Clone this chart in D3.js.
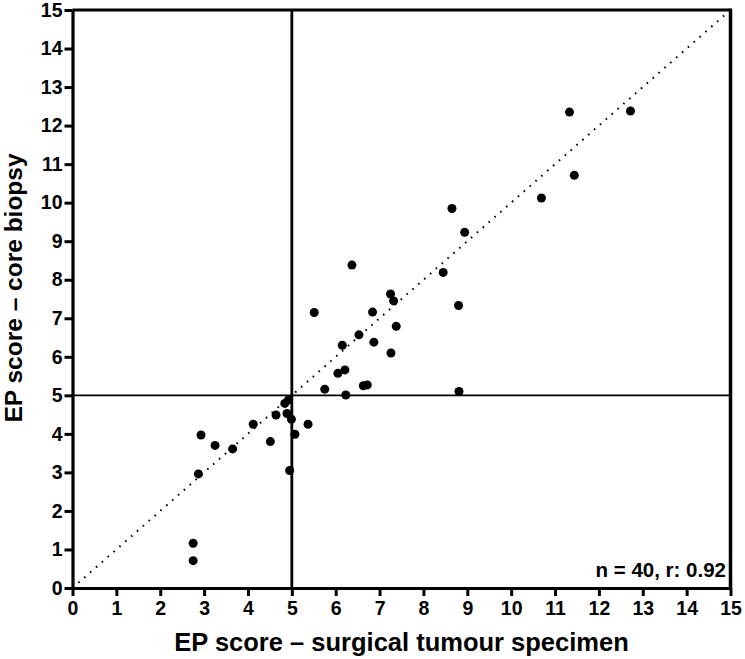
<!DOCTYPE html>
<html>
  <head>
    <title>EP score</title>
    <script src="https://d3js.org/d3.v7.min.js"></script>
    <style>
      body { margin: 0; background: #fff; }
      text { font-family: "Liberation Sans", Arial, sans-serif; font-weight: bold; }
    </style>
  </head>
  <body>
    <svg width="745" height="659" id="mainsvg"></svg>
    <script>
      // surgical specimen score (x) vs core biopsy score (y)
      const surgical = [2.75, 2.75, 2.87, 2.93, 3.25, 3.65, 4.12, 4.51, 4.64, 4.84,
                        4.92, 4.89, 4.99, 5.07, 5.37, 4.95, 5.75, 6.23, 6.63, 6.72,
                        8.81, 6.05, 6.21, 7.26, 6.15, 6.87, 6.53, 7.38, 6.84, 5.51,
                        8.80, 7.32, 7.25, 8.45, 6.37, 8.94, 8.65, 10.69, 11.44, 11.33, 12.72];
      const biopsy   = [0.71, 1.16, 2.96, 3.97, 3.70, 3.61, 4.25, 3.80, 4.49, 4.79,
                        4.88, 4.53, 4.38, 3.99, 4.25, 3.05, 5.16, 5.01, 5.25, 5.27,
                        5.10, 5.57, 5.66, 6.10, 6.30, 6.38, 6.57, 6.79, 7.16, 7.15,
                        7.33, 7.45, 7.63, 8.19, 8.38, 9.23, 9.85, 10.12, 10.71, 12.35, 12.38];
      const ticks = d3.range(0, 16);
      const cutoff = 5;

      const svg = d3.select('#mainsvg');
      const margin = {top: 10, right: 13, bottom: 71, left: 72.5};
      const width = +svg.attr('width');
      const height = +svg.attr('height');
      const innerWidth = width - margin.left - margin.right;
      const innerHeight = height - margin.top - margin.bottom;

      const x = d3.scaleLinear().domain([0, 15]).range([0, innerWidth - 1.5]);
      const y = d3.scaleLinear().domain([0, 15]).range([innerHeight, 0]);

      const g = svg.append('g')
        .attr('transform', `translate(${margin.left}, ${margin.top})`);

      // frame top / right
      g.append('line').attr('x1', 0).attr('x2', x(15)).attr('y1', y(15)).attr('y2', y(15))
        .attr('stroke', '#000').attr('stroke-width', 2.8);
      g.append('line').attr('x1', x(15)).attr('x2', x(15)).attr('y1', y(15) - 1.4).attr('y2', y(0))
        .attr('stroke', '#000').attr('stroke-width', 3.5);

      // cut-off lines
      g.append('line').attr('x1', x(cutoff)).attr('x2', x(cutoff)).attr('y1', y(15)).attr('y2', y(0))
        .attr('stroke', '#000').attr('stroke-width', 2.8);
      g.append('line').attr('x1', 0).attr('x2', x(15)).attr('y1', y(cutoff)).attr('y2', y(cutoff))
        .attr('stroke', '#000').attr('stroke-width', 1.8);

      // line of identity
      g.append('line').attr('x1', x(0)).attr('y1', y(0)).attr('x2', x(15)).attr('y2', y(15))
        .attr('stroke', '#000').attr('stroke-width', 2)
        .attr('stroke-dasharray', '1.6,6.2');

      // axes
      const xAxis = d3.axisBottom(x).tickValues(ticks).tickSize(8).tickPadding(5).tickSizeOuter(0);
      const yAxis = d3.axisLeft(y).tickValues(ticks).tickSize(8).tickPadding(2).tickSizeOuter(0);

      const gx = g.append('g').attr('transform', `translate(0, ${innerHeight})`).call(xAxis);
      const gy = g.append('g').call(yAxis);

      [gx, gy].forEach(a => {
        a.select('.domain').attr('stroke-width', 3.2);
        a.selectAll('.tick line').attr('stroke-width', 3);
        a.selectAll('.tick text').attr('font-size', '19.5px').attr('fill', '#000')
          .attr('font-family', '"Liberation Sans", Arial, sans-serif').attr('font-weight', 'bold');
      });

      // points
      const pts = surgical.map((v, i) => ({x: v, y: biopsy[i]}));
      g.selectAll('circle').data(pts).join('circle')
        .attr('cx', d => x(d.x)).attr('cy', d => y(d.y)).attr('r', 4.5)
        .attr('fill', '#000');

      // annotation
      svg.append('text').attr('x', 726).attr('y', 577)
        .attr('text-anchor', 'end').attr('font-size', '20.5px')
        .text('n = 40, r: 0.92');

      // axis titles
      svg.append('text').attr('x', 401.5).attr('y', 651)
        .attr('text-anchor', 'middle').attr('font-size', '25.5px')
        .text('EP score – surgical tumour specimen');
      svg.append('text')
        .attr('transform', 'translate(21.5, 288) rotate(-90)')
        .attr('text-anchor', 'middle').attr('font-size', '24.5px')
        .text('EP score – core biopsy');
    </script>
  </body>
</html>
